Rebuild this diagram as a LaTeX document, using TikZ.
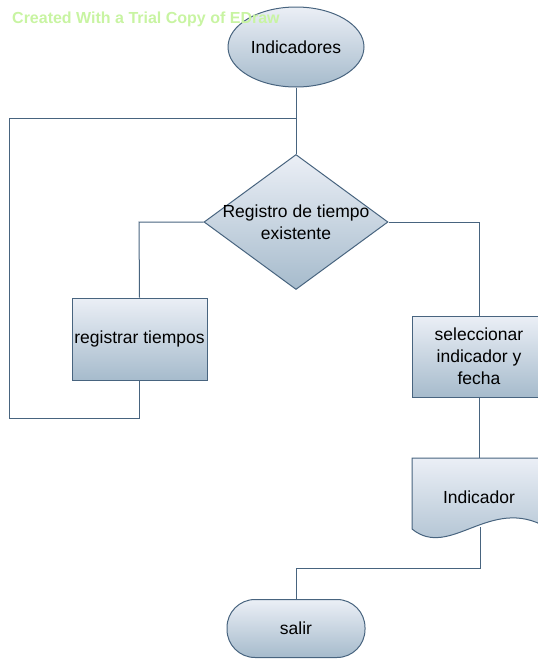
\documentclass[tikz,border=0pt]{standalone}
\usepackage{fontspec}
\setmainfont{Liberation Sans}
\usetikzlibrary{shapes.geometric}
\definecolor{edge}{HTML}{48647F}
\definecolor{shadetop}{HTML}{EBEFF6}
\definecolor{shadebot}{HTML}{A6BBCC}
\definecolor{mark}{HTML}{C8F4A2}
\tikzset{
  labelfont/.style={font=\fontsize{17.5}{22}\selectfont},
  shapebox/.style={draw=edge, line width=1pt, top color=shadetop, bottom color=shadebot,
    inner sep=0pt, align=center, labelfont},
  link/.style={draw=edge, line width=1pt}
}
\begin{document}
\begin{tikzpicture}[x=1pt,y=-1pt]
\useasboundingbox (0,0) rectangle (538,667);
% start terminator
\node[shapebox, ellipse, minimum width=136, minimum height=80] (ind) at (296,47) {Indicadores};
% decision
\node[shapebox, diamond, minimum width=184, minimum height=135] (dia) at (296,222) {};
\node[align=center, inner sep=0pt, labelfont] (diatext) at (296,222) {Registro de tiempo\\existente};
% process boxes
\node[shapebox, rectangle, minimum width=135, minimum height=82] (rt) at (139.5,339) {registrar tiempos};
\node[shapebox, rectangle, minimum width=134, minimum height=81] (sel) at (479,356.5) {seleccionar\\indicador y\\fecha};
% document shape
\path[link, top color=shadetop, bottom color=shadebot]
  (412,458) -- (546,458) -- (546,527)
  .. controls (490,495) and (450,560) .. (412,529) -- cycle;
\node[inner sep=0pt, labelfont] (doc) at (479,497) {Indicador};
\coordinate (docbot) at (480,527);
\coordinate (doctop) at (479,458);
% end terminator
\node[shapebox, rectangle, rounded corners=28pt, minimum width=138, minimum height=58] (salir) at (296,628.5) {salir};
% connectors
\coordinate (j1) at (296,118);
\coordinate (c1) at (9,418);
\coordinate (c2) at (139,222);
\coordinate (c3) at (479,222);
\coordinate (c4) at (296,568);
\draw[link] (ind.south) -- (dia.north);
\draw[link] (rt.south) |- (c1) |- (j1);
\draw[link] (dia.west) -- (c2) -- (rt.north);
\draw[link] (dia.east) -- (c3) -- (sel.north);
\draw[link] (sel.south) -- (doctop);
\draw[link] (docbot) |- (c4) -- (salir.north);
% watermark on top of everything
\node[anchor=base west, inner sep=0pt, text=mark, font=\fontsize{16}{18}\bfseries\selectfont] (wm) at (12,23) {Created With a Trial Copy of EDraw};
\end{tikzpicture}
\end{document}
